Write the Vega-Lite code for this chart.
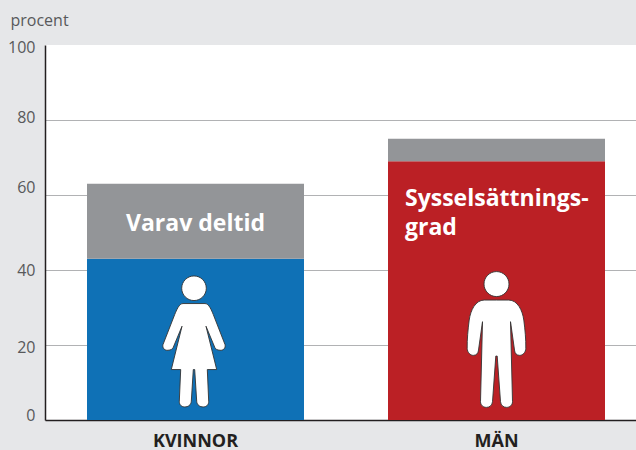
{
"$schema":"https://vega.github.io/schema/vega-lite/v6.json",
"width":591,"height":375,
"autosize":{"type":"none"},
"padding":{"left":45,"top":45,"right":0,"bottom":30},
"background":"#e6e7e9",
"config":{"view":{"fill":"#ffffff","stroke":null},"font":"Open Sans"},
"layer":[
{"data":{"values":[
{"kon":"KVINNOR","serie":"Kvinnor utan deltid","ord":1,"procent":43},
{"kon":"KVINNOR","serie":"Varav deltid","ord":2,"procent":20},
{"kon":"MÄN","serie":"Män utan deltid","ord":1,"procent":69},
{"kon":"MÄN","serie":"Varav deltid","ord":2,"procent":6}
]},
"mark":{"type":"bar","size":217},
"encoding":{
"x":{"field":"kon","type":"nominal","sort":["KVINNOR","MÄN"],"scale":{"range":[0,602],"paddingInner":0,"paddingOuter":0},
"axis":{"title":null,"labelAngle":0,"labelFont":"Open Sans","labelFontSize":18,"labelFontWeight":"bold","labelColor":"#231f20","labelPadding":12,"ticks":false,"domainColor":"#231f20","domainWidth":1.5,"grid":false}},
"y":{"field":"procent","type":"quantitative","stack":"zero","scale":{"domain":[0,100],"nice":false},
"axis":{"values":[0,20,40,60,80,100],"title":"procent","titleAngle":0,"titleAlign":"left","titleBaseline":"alphabetic","titleX":-35,"titleY":-20,"titleFont":"Open Sans","titleFontSize":16,"titleFontWeight":"normal","titleColor":"#58595b",
"labelFont":"Open Sans","labelFontSize":16,"labelColor":"#58595b","labelPadding":10,"ticks":false,"domainColor":"#231f20","domainWidth":1.5,"grid":true,
"gridColor":{"condition":{"test":"datum.value==100||datum.value==0","value":"transparent"},"value":"#b1b2b4"},"gridWidth":1.2,
"labelOffset":{"expr":"datum.value==100?2:datum.value==80?-3:datum.value==60?-8:datum.value==20?2:datum.value==0?-5:0"}}},
"color":{"field":"serie","type":"nominal","legend":null,"scale":{"domain":["Kvinnor utan deltid","Män utan deltid","Varav deltid"],"range":["#0f71b6","#bb2025","#939598"]}},
"order":{"field":"ord","type":"quantitative"}
}},
{"data":{"values":[{"kon":"KVINNOR","etikett":"Varav deltid"}]},
"mark":{"type":"text","font":"Open Sans","fontSize":23,"fontWeight":"bold","color":"#ffffff","align":"center","baseline":"middle"},
"encoding":{"x":{"field":"kon","type":"nominal"},"y":{"datum":52.4,"type":"quantitative"},"text":{"field":"etikett"}}},
{"data":{"values":[{"kon":"MÄN","etikett":"Sysselsättnings-\ngrad"}]},
"mark":{"type":"text","font":"Open Sans","fontSize":23,"fontWeight":"bold","color":"#ffffff","align":"left","baseline":"alphabetic","lineBreak":"\n","lineHeight":29,"dx":-91.5},
"encoding":{"x":{"field":"kon","type":"nominal"},"y":{"datum":57.2,"type":"quantitative"},"text":{"field":"etikett"}}},
{"data":{"values":[{"kon":"KVINNOR","figur":"kvinna"}]},
"mark":{"type":"point","filled":true,"size":4,"opacity":1,"fill":"#ffffff","stroke":"#333333","strokeWidth":0.9,"xOffset":-1.5,
"shape":"M-12.3,-53A12.3,12.3 0 1,0 12.3,-53A12.3,12.3 0 1,0 -12.3,-53ZM0,-37.7L11,-37.7C15,-37.7 17.5,-31 19.3,-26.7L31,3.3C32,7 29,9.5 26,9C23,8.8 22,8 21,6.7L12,-15L22.7,28.3L13.3,28.3L14.7,60C14.8,64 12,65.7 9.3,65.7C6,65.7 3,64 2.7,60L0.7,28.3L-0.7,28.3L-2.7,60C-3,64 -6,65.7 -9.3,65.7C-12,65.7 -14.8,64 -14.7,60L-13.3,28.3L-22.7,28.3L-12,-15L-21,6.7C-22,8 -23,8.8 -26,9C-29,9.5 -32,7 -31,3.3L-19.3,-26.7C-17.5,-31 -15,-37.7 -11,-37.7Z"},
"encoding":{"x":{"field":"kon","type":"nominal"},"y":{"datum":21,"type":"quantitative"}}},
{"data":{"values":[{"kon":"MÄN","figur":"man"}]},
"mark":{"type":"point","filled":true,"size":4,"opacity":1,"fill":"#ffffff","stroke":"#333333","strokeWidth":0.9,
"shape":"M-12.5,-55.3A12.5,12.5 0 1,0 12.5,-55.3A12.5,12.5 0 1,0 -12.5,-55.3ZM0,-39.3L12.3,-39.3C21,-39.3 26,-29 27.3,-19.3C28.5,-10 29.5,0 29.3,9C29.3,13 26,16 23.3,16C20,16 18.3,14 18,10.7L14,-17.7L16,62.3C16,66 13,68 10,68C7,68 4.3,66 4,62.3L0.7,16.7L-0.7,16.7L-4,62.3C-4.3,66 -7,68 -10,68C-13,68 -16,66 -16,62.3L-14,-17.7L-18,10.7C-18.3,14 -20,16 -23.3,16C-26,16 -29.3,13 -29.3,9C-29.5,0 -28.5,-10 -27.3,-19.3C-26,-29 -21,-39.3 -12.3,-39.3Z"},
"encoding":{"x":{"field":"kon","type":"nominal"},"y":{"datum":21.5,"type":"quantitative"}}}
]
}
